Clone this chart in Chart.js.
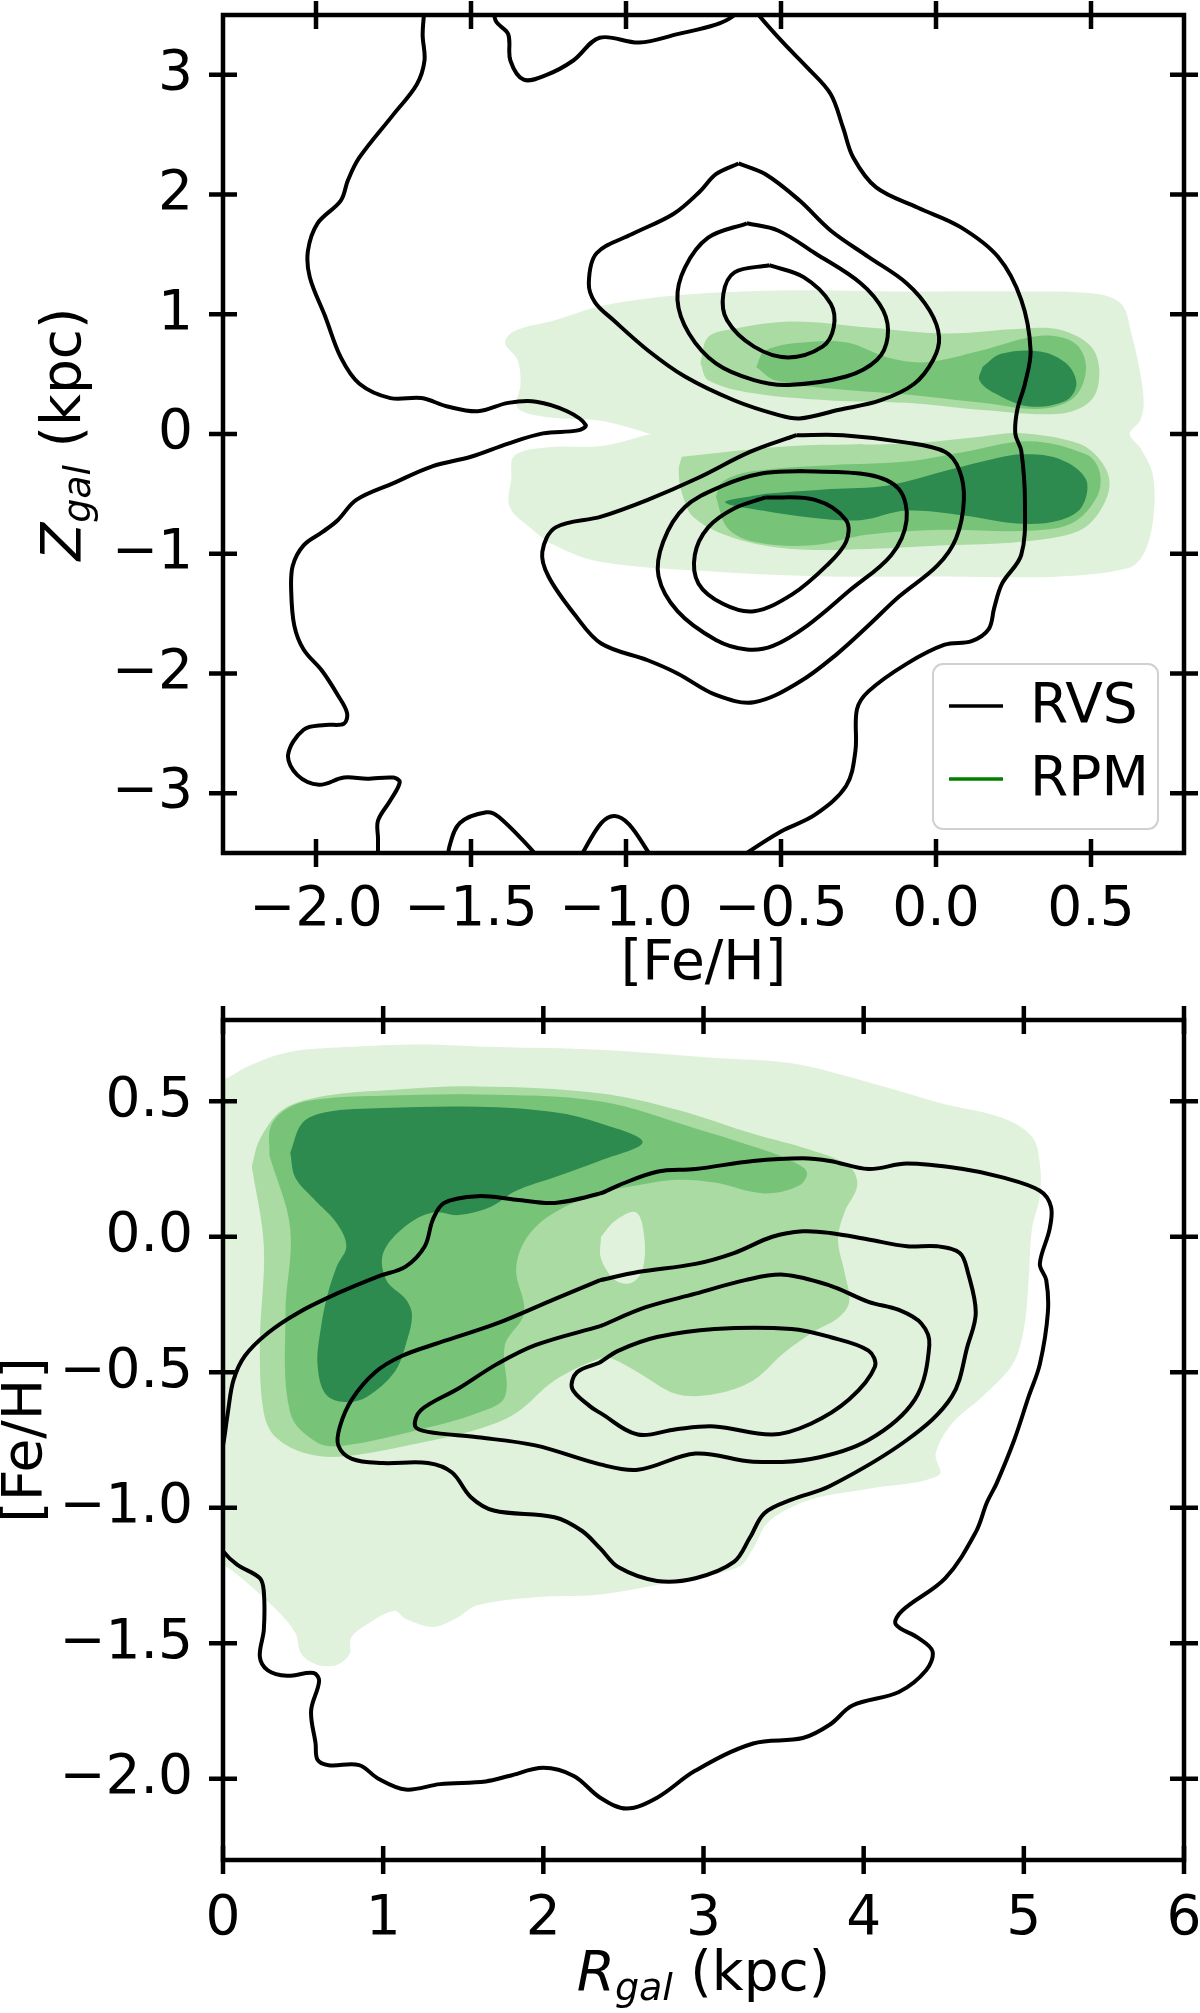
<!DOCTYPE html>
<html><head><meta charset="utf-8">
<script src="https://cdn.jsdelivr.net/npm/chart.js@4.4.1/dist/chart.umd.min.js"></script>
<style>
html,body{margin:0;padding:0;background:#fff;}
#wrap{position:relative;width:1200px;height:2013px;overflow:hidden;}
.box{position:absolute;left:0;width:1200px;}
</style></head><body>
<div id="wrap">
<div class="box" style="top:0;height:990px"><canvas id="c1" width="1200" height="990"></canvas></div>
<div class="box" style="top:990px;height:1023px"><canvas id="c2" width="1200" height="1023"></canvas></div>
</div>
<script>
// ---------------- axis ranges & tick labels ----------------
const topXRange = [-2.3, 0.8];
const topYRange = [-3.5, 3.5];
const topXTicks = [-2.0, -1.5, -1.0, -0.5, 0.0, 0.5];
const topYTicks = [-3, -2, -1, 0, 1, 2, 3];
const botXRange = [0, 6];
const botYRange = [-2.3, 0.8];
const botXTicks = [0, 1, 2, 3, 4, 5, 6];
const botYTicks = [-2.0, -1.5, -1.0, -0.5, 0.0, 0.5];
const seriesNames = ['RVS', 'RPM'];

// ---------------- top panel: RVS contours ([Fe/H], Z) ----------------
const topRVS_outerLeft = [[-1.648,3.6],[-1.656,3.34],[-1.65,3.12],[-1.675,2.92],[-1.75,2.67],[-1.86,2.31],[-1.897,2.12],[-1.92,1.95],[-1.995,1.76],[-2.026,1.53],[-2.02,1.31],[-1.97,0.98],[-1.92,0.64],[-1.86,0.42],[-1.76,0.30],[-1.66,0.30],[-1.576,0.23],[-1.478,0.19],[-1.38,0.26],[-1.29,0.27],[-1.19,0.19],[-1.13,0.075],[-1.155,0.03],[-1.268,0.005],[-1.38,-0.08],[-1.50,-0.19],[-1.625,-0.27],[-1.75,-0.41],[-1.87,-0.55],[-1.93,-0.72],[-1.98,-0.82],[-2.04,-0.93],[-2.075,-1.10],[-2.08,-1.31],[-2.07,-1.60],[-2.04,-1.80],[-1.98,-1.98],[-1.93,-2.18],[-1.90,-2.33],[-1.91,-2.42],[-1.97,-2.43],[-2.04,-2.47],[-2.09,-2.68],[-2.06,-2.85],[-1.99,-2.93],[-1.91,-2.87],[-1.835,-2.88],[-1.75,-2.87],[-1.73,-2.91],[-1.76,-3.06],[-1.80,-3.23],[-1.80,-3.38],[-1.80,-3.6]];
const topRVS_outerTop = [[-1.428,3.6],[-1.42,3.45],[-1.38,3.34],[-1.373,3.12],[-1.33,2.96],[-1.256,3.0],[-1.17,3.12],[-1.085,3.31],[-0.957,3.27],[-0.834,3.34],[-0.71,3.42],[-0.655,3.49],[-0.62,3.6]];
const topRVS_outerMain = [[-0.60,3.6],[-0.569,3.49],[-0.49,3.26],[-0.415,3.06],[-0.34,2.84],[-0.30,2.56],[-0.267,2.31],[-0.193,2.06],[-0.058,1.89],[0.078,1.73],[0.20,1.48],[0.275,1.12],[0.305,0.70],[0.287,0.42],[0.262,0.20],[0.256,0.0],[0.275,-0.14],[0.287,-0.58],[0.275,-1.01],[0.213,-1.25],[0.188,-1.45],[0.17,-1.63],[0.115,-1.73],[0.028,-1.76],[-0.095,-1.92],[-0.218,-2.15],[-0.255,-2.30],[-0.26,-2.65],[-0.29,-2.94],[-0.39,-3.18],[-0.50,-3.32],[-0.61,-3.50],[-0.66,-3.6]];
const topRVS_bump1 = [[-1.575,-3.6],[-1.57,-3.45],[-1.536,-3.25],[-1.45,-3.16],[-1.41,-3.2],[-1.295,-3.5],[-1.27,-3.6]];
const topRVS_bump2 = [[-1.16,-3.6],[-1.14,-3.5],[-1.08,-3.25],[-1.037,-3.19],[-0.99,-3.26],[-0.926,-3.5],[-0.9,-3.6]];
const topRVS_up1 = [[-0.637,2.26],[-0.55,2.17],[-0.44,1.95],[-0.34,1.70],[-0.218,1.48],[-0.095,1.26],[-0.02,1.03],[0.01,0.81],[-0.009,0.62],[-0.07,0.42],[-0.18,0.28],[-0.316,0.20],[-0.44,0.13],[-0.51,0.16],[-0.65,0.28],[-0.81,0.48],[-0.93,0.70],[-1.04,0.95],[-1.10,1.10],[-1.12,1.26],[-1.095,1.51],[-0.98,1.67],[-0.846,1.84],[-0.76,2.03],[-0.71,2.17]];
const topRVS_up2 = [[-0.61,1.76],[-0.51,1.70],[-0.39,1.51],[-0.243,1.26],[-0.17,1.03],[-0.156,0.81],[-0.19,0.62],[-0.29,0.48],[-0.477,0.41],[-0.587,0.45],[-0.71,0.59],[-0.797,0.84],[-0.834,1.12],[-0.81,1.39],[-0.735,1.64]];
const topRVS_up3 = [[-0.538,1.41],[-0.427,1.31],[-0.34,1.09],[-0.33,0.89],[-0.366,0.73],[-0.477,0.64],[-0.587,0.73],[-0.674,0.95],[-0.686,1.17],[-0.65,1.35]];
const topRVS_low1 = [[-0.45,-0.01],[-0.30,-0.01],[-0.10,-0.07],[0.03,-0.15],[0.075,-0.30],[0.09,-0.55],[0.065,-0.87],[0.004,-1.10],[-0.12,-1.36],[-0.218,-1.60],[-0.316,-1.83],[-0.44,-2.07],[-0.587,-2.24],[-0.71,-2.18],[-0.834,-2.0],[-0.93,-1.89],[-1.08,-1.75],[-1.165,-1.51],[-1.25,-1.19],[-1.27,-0.985],[-1.227,-0.78],[-1.08,-0.69],[-0.93,-0.55],[-0.77,-0.37],[-0.60,-0.15]];
const topRVS_low2 = [[-0.44,-0.31],[-0.218,-0.34],[-0.12,-0.46],[-0.095,-0.72],[-0.144,-1.01],[-0.28,-1.31],[-0.415,-1.60],[-0.526,-1.77],[-0.61,-1.80],[-0.71,-1.72],[-0.834,-1.48],[-0.895,-1.19],[-0.88,-0.90],[-0.81,-0.61],[-0.686,-0.43],[-0.563,-0.33]];
const topRVS_low3 = [[-0.55,-0.53],[-0.39,-0.55],[-0.29,-0.72],[-0.29,-0.90],[-0.353,-1.10],[-0.464,-1.34],[-0.587,-1.48],[-0.686,-1.42],[-0.766,-1.25],[-0.778,-1.01],[-0.735,-0.78],[-0.65,-0.62]];

// ---------------- top panel: RPM filled levels ----------------
const topRPM_L1 = [[-0.92,0.0],[-1.08,0.11],[-1.25,0.14],[-1.35,0.22],[-1.34,0.42],[-1.35,0.62],[-1.39,0.76],[-1.36,0.86],[-1.23,0.95],[-1.08,1.07],[-0.83,1.16],[-0.46,1.2],[-0.1,1.19],[0.28,1.19],[0.52,1.17],[0.60,1.08],[0.63,0.84],[0.655,0.56],[0.67,0.28],[0.66,0.12],[0.625,0.0],[0.66,-0.12],[0.70,-0.35],[0.70,-0.72],[0.67,-1.0],[0.62,-1.12],[0.40,-1.19],[0.03,-1.19],[-0.34,-1.19],[-0.71,-1.15],[-1.08,-1.07],[-1.23,-0.93],[-1.31,-0.78],[-1.375,-0.61],[-1.37,-0.37],[-1.36,-0.18],[-1.25,-0.11],[-1.08,-0.10]];
const topRPM_upL2 = [[-0.76,0.59],[-0.735,0.81],[-0.65,0.88],[-0.464,0.94],[-0.218,0.89],[0.028,0.84],[0.275,0.88],[0.40,0.87],[0.50,0.73],[0.527,0.51],[0.50,0.28],[0.40,0.17],[0.15,0.20],[-0.095,0.26],[-0.34,0.28],[-0.587,0.34],[-0.735,0.45]];
const topRPM_upL3 = [[-0.58,0.56],[-0.55,0.70],[-0.40,0.77],[-0.28,0.76],[-0.156,0.64],[-0.033,0.60],[0.15,0.70],[0.336,0.82],[0.447,0.76],[0.484,0.56],[0.447,0.31],[0.336,0.21],[0.15,0.26],[-0.095,0.33],[-0.34,0.38],[-0.52,0.45]];
const topRPM_upL4 = [[0.15,0.56],[0.21,0.67],[0.336,0.69],[0.42,0.59],[0.453,0.42],[0.42,0.28],[0.30,0.23],[0.19,0.34],[0.14,0.45]];
const topRPM_lowL2 = [[-0.82,-0.19],[-0.464,-0.10],[-0.095,-0.08],[0.15,-0.02],[0.275,0.006],[0.46,-0.08],[0.53,-0.22],[0.56,-0.41],[0.53,-0.64],[0.46,-0.81],[0.275,-0.90],[0.028,-0.93],[-0.218,-0.96],[-0.464,-0.96],[-0.65,-0.87],[-0.78,-0.70],[-0.82,-0.49],[-0.83,-0.30]];
const topRPM_lowL3 = [[-0.71,-0.52],[-0.674,-0.78],[-0.587,-0.90],[-0.40,-0.93],[-0.218,-0.84],[0.028,-0.80],[0.275,-0.81],[0.435,-0.75],[0.52,-0.52],[0.527,-0.31],[0.484,-0.17],[0.30,-0.06],[0.09,-0.15],[-0.095,-0.23],[-0.34,-0.26],[-0.587,-0.31],[-0.69,-0.40]];
const topRPM_lowL4 = [[-0.55,-0.50],[-0.34,-0.46],[-0.156,-0.43],[0.028,-0.31],[0.15,-0.23],[0.275,-0.17],[0.40,-0.21],[0.484,-0.38],[0.47,-0.61],[0.40,-0.72],[0.275,-0.75],[0.09,-0.68],[-0.095,-0.64],[-0.243,-0.72],[-0.40,-0.70],[-0.56,-0.64],[-0.68,-0.57]];

// ---------------- bottom panel: RVS contours (R, [Fe/H]) ----------------
const botRVS_1 = [[-0.08,-1.08],[0,-1.16],[0.088,-1.21],[0.23,-1.26],[0.255,-1.31],[0.255,-1.45],[0.23,-1.55],[0.28,-1.60],[0.40,-1.62],[0.566,-1.61],[0.60,-1.64],[0.55,-1.75],[0.578,-1.87],[0.59,-1.93],[0.66,-1.95],[0.85,-1.95],[0.97,-2.0],[1.14,-2.04],[1.355,-2.02],[1.64,-2.01],[1.785,-1.99],[2.0,-1.96],[2.19,-1.99],[2.355,-2.07],[2.52,-2.11],[2.71,-2.07],[2.95,-1.97],[3.31,-1.87],[3.62,-1.85],[3.79,-1.80],[3.93,-1.73],[4.22,-1.68],[4.39,-1.60],[4.43,-1.53],[4.34,-1.48],[4.20,-1.43],[4.24,-1.38],[4.51,-1.26],[4.70,-1.09],[4.77,-0.98],[4.83,-0.91],[4.94,-0.75],[5.03,-0.59],[5.10,-0.47],[5.15,-0.28],[5.14,-0.16],[5.10,-0.10],[5.16,0.026],[5.17,0.11],[5.10,0.17],[4.86,0.22],[4.62,0.25],[4.27,0.27],[4.03,0.25],[3.79,0.28],[3.62,0.29],[3.31,0.28],[2.95,0.25],[2.71,0.24],[2.47,0.19],[2.355,0.16],[2.07,0.125],[1.83,0.137],[1.59,0.15],[1.38,0.125],[1.31,0.063],[1.26,-0.035],[1.14,-0.11],[0.97,-0.146],[0.71,-0.21],[0.47,-0.28],[0.28,-0.355],[0.136,-0.44],[0.065,-0.53],[0.03,-0.65],[0,-0.77],[-0.05,-0.9]];
const botRVS_2 = [[2.355,-0.16],[2.07,-0.23],[1.71,-0.32],[1.355,-0.39],[1.116,-0.44],[0.95,-0.50],[0.805,-0.60],[0.73,-0.70],[0.72,-0.77],[0.805,-0.82],[0.996,-0.835],[1.28,-0.835],[1.43,-0.87],[1.546,-0.96],[1.69,-1.01],[2.07,-1.035],[2.24,-1.085],[2.355,-1.15],[2.47,-1.22],[2.71,-1.27],[2.95,-1.26],[3.19,-1.20],[3.29,-1.11],[3.38,-1.02],[3.55,-0.97],[3.79,-0.92],[4.27,-0.75],[4.55,-0.59],[4.65,-0.40],[4.70,-0.28],[4.65,-0.13],[4.60,-0.06],[4.46,-0.035],[4.27,-0.035],[4.03,-0.01],[3.79,0.014],[3.62,0.02],[3.43,0.0],[3.19,-0.06],[2.95,-0.10],[2.59,-0.13]];
const botRVS_3 = [[2.355,-0.33],[1.95,-0.40],[1.71,-0.47],[1.47,-0.56],[1.235,-0.64],[1.2,-0.70],[1.28,-0.72],[1.59,-0.74],[1.95,-0.77],[2.355,-0.84],[2.59,-0.86],[2.95,-0.80],[3.31,-0.83],[3.67,-0.82],[4.03,-0.75],[4.32,-0.60],[4.41,-0.40],[4.36,-0.32],[4.22,-0.27],[4.03,-0.24],[3.79,-0.18],[3.50,-0.14],[3.26,-0.16],[2.95,-0.21],[2.64,-0.26]];
const botRVS_4 = [[2.35,-0.465],[2.21,-0.50],[2.18,-0.56],[2.29,-0.625],[2.355,-0.65],[2.59,-0.73],[2.83,-0.71],[3.07,-0.70],[3.43,-0.73],[3.67,-0.69],[3.91,-0.60],[4.07,-0.48],[4.03,-0.42],[3.79,-0.37],[3.55,-0.34],[3.07,-0.34],[2.71,-0.37],[2.47,-0.42]];

// ---------------- bottom panel: RPM filled levels ----------------
const botRPM_L1 = [[-0.1,0.58],[0,0.58],[0.16,0.63],[0.40,0.68],[0.76,0.70],[1.235,0.71],[1.71,0.70],[2.35,0.69],[3.07,0.66],[3.55,0.64],[4.03,0.57],[4.50,0.49],[4.86,0.44],[5.05,0.37],[5.10,0.27],[5.10,0.15],[5.05,0.026],[5.03,-0.16],[5.0,-0.34],[4.93,-0.47],[4.74,-0.59],[4.55,-0.69],[4.45,-0.80],[4.47,-0.88],[4.03,-0.93],[3.67,-0.97],[3.41,-1.05],[3.31,-1.15],[3.215,-1.22],[2.83,-1.27],[2.355,-1.32],[1.95,-1.33],[1.59,-1.36],[1.45,-1.41],[1.31,-1.44],[1.14,-1.41],[1.07,-1.38],[0.90,-1.43],[0.80,-1.48],[0.79,-1.54],[0.71,-1.58],[0.59,-1.58],[0.49,-1.54],[0.45,-1.46],[0.33,-1.375],[0.136,-1.27],[0,-1.21],[-0.1,-1.2]];
const botRPM_L2 = [[0.18,0.26],[0.23,0.36],[0.375,0.47],[0.64,0.52],[1.0,0.54],[1.59,0.555],[2.35,0.53],[2.83,0.47],[3.31,0.38],[3.67,0.32],[3.91,0.26],[3.96,0.19],[3.88,0.09],[3.84,-0.01],[3.88,-0.13],[3.91,-0.24],[3.84,-0.30],[3.69,-0.35],[3.50,-0.43],[3.31,-0.53],[3.07,-0.58],[2.83,-0.58],[2.59,-0.50],[2.43,-0.45],[2.35,-0.45],[2.07,-0.53],[1.83,-0.65],[1.59,-0.71],[1.235,-0.76],[0.76,-0.81],[0.52,-0.80],[0.33,-0.74],[0.255,-0.65],[0.23,-0.40],[0.255,-0.035]];
const botRPM_L3 = [[0.29,0.30],[0.30,0.41],[0.42,0.48],[0.64,0.51],[1.0,0.52],[1.59,0.525],[2.35,0.50],[2.95,0.40],[3.38,0.32],[3.55,0.28],[3.645,0.24],[3.60,0.19],[3.38,0.16],[3.07,0.20],[2.83,0.21],[2.59,0.19],[2.35,0.16],[2.07,0.09],[1.90,0.0],[1.83,-0.12],[1.88,-0.28],[1.76,-0.40],[1.76,-0.59],[1.59,-0.65],[1.235,-0.71],[0.76,-0.77],[0.59,-0.76],[0.42,-0.65],[0.39,-0.28],[0.42,0.03]];
const botRPM_L4 = [[0.42,0.31],[0.495,0.42],[0.64,0.46],[1.0,0.475],[1.59,0.48],[2.07,0.46],[2.35,0.42],[2.62,0.35],[2.35,0.28],[2.07,0.22],[1.83,0.17],[1.67,0.11],[1.47,0.08],[1.31,0.09],[1.14,0.04],[1.0,-0.06],[1.02,-0.16],[1.14,-0.23],[1.18,-0.29],[1.14,-0.40],[1.07,-0.50],[0.90,-0.59],[0.76,-0.61],[0.64,-0.58],[0.59,-0.47],[0.61,-0.34],[0.65,-0.22],[0.71,-0.11],[0.77,-0.035],[0.71,0.05],[0.566,0.14],[0.45,0.22]];
const botRPM_hole = [[2.36,0.0],[2.45,0.06],[2.58,0.09],[2.63,0.0],[2.62,-0.12],[2.55,-0.17],[2.45,-0.16],[2.36,-0.08]];

// ---------------- styling ----------------
const FONT = '"DejaVu Sans", "Liberation Sans", sans-serif';
const FS = 55;
const GREENS = ['#e0f2dc', '#a9dba2', '#77c479', '#2e8b50'];

const toPts = (a, close) => { const d = a.map(([x, y]) => ({x, y})); if (close) d.push({...d[0]}); return d; };
function lineDS(a, close) {
  return {data: toPts(a, close), borderColor: '#000', borderWidth: 4, pointRadius: 0, fill: false,
          tension: 0.35, order: 1, clip: 0};
}
function fillDS(a, color, order) {
  return {data: toPts(a, true), borderColor: color, borderWidth: 0, backgroundColor: color, fill: 'shape',
          pointRadius: 0, tension: 0.35, order, clip: 0};
}
const fmt1 = v => (Math.abs(v) < 1e-9 ? 0 : v).toFixed(1).replace('-', '\u2212');
const fmt0 = v => String(Math.round(v)).replace('-', '\u2212');

function fontOf(p) { return (p.it ? 'italic ' : '') + (p.sub ? 38 : FS) + 'px ' + FONT; }
function drawRich(ctx, parts, cx, cy, rot) {
  ctx.save(); ctx.translate(cx, cy); if (rot) ctx.rotate(-Math.PI / 2);
  ctx.textBaseline = 'middle'; ctx.textAlign = 'left'; ctx.fillStyle = '#000';
  let w = 0; parts.forEach(p => { ctx.font = fontOf(p); w += ctx.measureText(p.t).width; });
  let x = -w / 2;
  parts.forEach(p => { ctx.font = fontOf(p); ctx.fillText(p.t, x, p.sub ? 14 : 0); x += ctx.measureText(p.t).width; });
  ctx.restore();
}

const framePlugin = {
  id: 'frame',
  afterDraw(chart, args, o) {
    const {ctx, chartArea: {left, right, top, bottom}, scales: {x, y}} = chart;
    ctx.save();
    ctx.strokeStyle = '#000'; ctx.lineWidth = 4.5; ctx.lineCap = 'butt';
    const L = 14;
    ctx.beginPath();
    x.ticks.forEach(t => { const px = x.getPixelForValue(t.value);
      ctx.moveTo(px, bottom - L); ctx.lineTo(px, bottom + L); ctx.moveTo(px, top - L); ctx.lineTo(px, top + L); });
    y.ticks.forEach(t => { const py = y.getPixelForValue(t.value);
      ctx.moveTo(left - L, py); ctx.lineTo(left + L, py); ctx.moveTo(right - L, py); ctx.lineTo(right + L, py); });
    ctx.stroke();
    ctx.lineJoin = 'miter';
    ctx.strokeRect(left, top, right - left, bottom - top);
    ctx.restore();
    drawRich(ctx, o.xTitle, (left + right) / 2, o.xTitleY, false);
    drawRich(ctx, o.yTitle, o.yTitleX, (top + bottom) / 2, true);
    if (o.legend) {
      const b = o.legend;
      ctx.save();
      ctx.beginPath();
      ctx.roundRect(b.x, b.y, b.w, b.h, 10);
      ctx.fillStyle = 'rgba(255,255,255,0.85)'; ctx.fill();
      ctx.strokeStyle = '#d0d0d0'; ctx.lineWidth = 2; ctx.stroke();
      const cols = ['#000000', '#008000'];
      seriesNames.forEach((n, i) => {
        const yy = b.y + 42 + i * 73;
        ctx.strokeStyle = cols[i]; ctx.lineWidth = 3.5;
        ctx.beginPath(); ctx.moveTo(b.x + 16, yy); ctx.lineTo(b.x + 70, yy); ctx.stroke();
        ctx.fillStyle = '#000'; ctx.font = FS + 'px ' + FONT; ctx.textBaseline = 'middle'; ctx.textAlign = 'left';
        ctx.fillText(n, b.x + 97, yy + 2);
      });
      ctx.restore();
    }
  }
};

function axis(range, ticks, fmt, pad, fitKey, fitVal) {
  return {
    type: 'linear', min: range[0], max: range[1],
    grid: {display: false}, border: {display: false},
    ticks: {color: '#000', font: {family: FONT, size: FS}, padding: pad, autoSkip: false, maxRotation: 0,
            callback: v => fmt(v)},
    afterBuildTicks: s => { s.ticks = ticks.map(v => ({value: v})); },
    afterFit: s => { s[fitKey] = fitVal; s.paddingLeft = 0; s.paddingRight = 0; s.paddingTop = 0; s.paddingBottom = 0; }
  };
}

function makeChart(id, datasets, scales, padding, frameOpts) {
  return new Chart(document.getElementById(id), {
    type: 'line',
    data: {datasets},
    options: {
      responsive: false, animation: false, maintainAspectRatio: false,
      layout: {padding},
      elements: {line: {capBezierPoints: false}},
      plugins: {legend: {display: false}, tooltip: {enabled: false}, frame: frameOpts},
      scales
    },
    plugins: [framePlugin]
  });
}

// ---------------- top chart ----------------
makeChart('c1', [
  fillDS(topRPM_L1, GREENS[0], 20),
  fillDS(topRPM_upL2, GREENS[1], 19), fillDS(topRPM_lowL2, GREENS[1], 19),
  fillDS(topRPM_upL3, GREENS[2], 18), fillDS(topRPM_lowL3, GREENS[2], 18),
  fillDS(topRPM_upL4, GREENS[3], 17), fillDS(topRPM_lowL4, GREENS[3], 17),
  lineDS(topRVS_outerLeft, false), lineDS(topRVS_outerTop, false), lineDS(topRVS_outerMain, false),
  lineDS(topRVS_bump1, false), lineDS(topRVS_bump2, false),
  lineDS(topRVS_up1, true), lineDS(topRVS_up2, true), lineDS(topRVS_up3, true),
  lineDS(topRVS_low1, true), lineDS(topRVS_low2, true), lineDS(topRVS_low3, true)
], {
  x: axis(topXRange, topXTicks, fmt1, 17, 'height', 137),
  y: axis(topYRange, topYTicks, fmt0, 22, 'width', 223)
}, {left: 0, right: 16, top: 15, bottom: 0}, {
  xTitle: [{t: '[Fe/H]'}], xTitleY: 965,
  yTitle: [{t: 'Z', it: true}, {t: 'gal', it: true, sub: true}, {t: ' (kpc)'}], yTitleX: 66,
  legend: {x: 933, y: 664, w: 225, h: 165}
});

// ---------------- bottom chart ----------------
makeChart('c2', [
  fillDS(botRPM_L1, GREENS[0], 20),
  fillDS(botRPM_L2, GREENS[1], 19),
  fillDS(botRPM_hole, GREENS[0], 18.5),
  fillDS(botRPM_L3, GREENS[2], 18),
  fillDS(botRPM_L4, GREENS[3], 17),
  lineDS(botRVS_1, false), lineDS(botRVS_2, true), lineDS(botRVS_3, true), lineDS(botRVS_4, true)
], {
  x: axis(botXRange, botXTicks, fmt0, 19, 'height', 153),
  y: axis(botYRange, botYTicks, fmt1, 22, 'width', 223)
}, {left: 0, right: 16, top: 30, bottom: 0}, {
  xTitle: [{t: 'R', it: true}, {t: 'gal', it: true, sub: true}, {t: ' (kpc)'}], xTitleY: 986,
  yTitle: [{t: '[Fe/H]'}], yTitleX: 27
});
</script>
</body></html>
